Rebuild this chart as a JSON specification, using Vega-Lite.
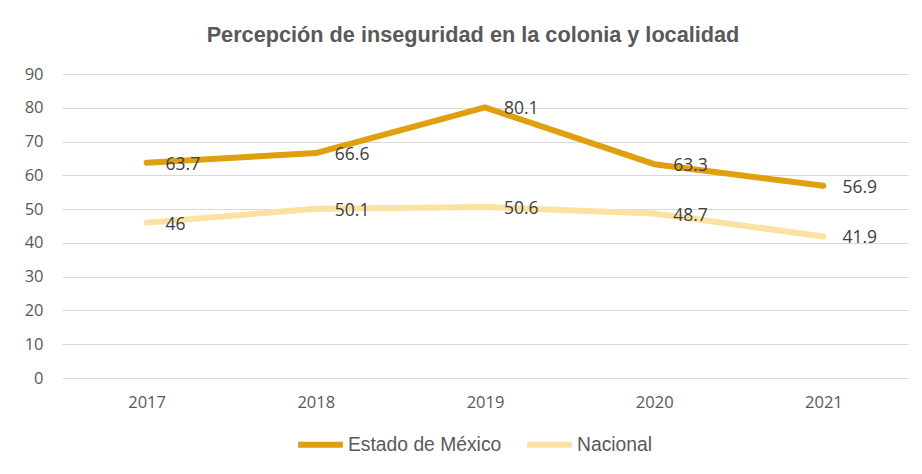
{
  "$schema": "https://vega.github.io/schema/vega-lite/v6.json",
  "width": 846,
  "height": 304,
  "autosize": {"type": "none"},
  "padding": {"left": 62, "top": 74, "right": 14, "bottom": 96},
  "background": "white",
  "title": {
    "text": "Percepción de inseguridad en la colonia y localidad",
    "font": "Liberation Sans",
    "fontSize": 21.7,
    "fontWeight": "bold",
    "color": "#595959",
    "anchor": "middle",
    "dx": -12,
    "offset": 19
  },
  "data": {
    "values": [
      {"year": "2017", "serie": "Estado de México", "valor": 63.7},
      {"year": "2018", "serie": "Estado de México", "valor": 66.6},
      {"year": "2019", "serie": "Estado de México", "valor": 80.1},
      {"year": "2020", "serie": "Estado de México", "valor": 63.3},
      {"year": "2021", "serie": "Estado de México", "valor": 56.9},
      {"year": "2017", "serie": "Nacional", "valor": 46},
      {"year": "2018", "serie": "Nacional", "valor": 50.1},
      {"year": "2019", "serie": "Nacional", "valor": 50.6},
      {"year": "2020", "serie": "Nacional", "valor": 48.7},
      {"year": "2021", "serie": "Nacional", "valor": 41.9}
    ]
  },
  "encoding": {
    "x": {
      "field": "year",
      "type": "ordinal",
      "scale": {"paddingInner": 0, "paddingOuter": 0.5},
      "axis": {
        "title": null,
        "labelAngle": 0,
        "domain": false,
        "ticks": false,
        "labelFont": "Open Sans",
        "labelFontSize": 16.5,
        "labelColor": "#595959",
        "labelPadding": 16
      }
    },
    "y": {
      "field": "valor",
      "type": "quantitative",
      "scale": {"domain": [0, 90], "nice": false},
      "axis": {
        "title": null,
        "values": [0, 10, 20, 30, 40, 50, 60, 70, 80, 90],
        "domain": false,
        "ticks": false,
        "labelFont": "Open Sans",
        "labelFontSize": 16.5,
        "labelColor": "#595959",
        "labelPadding": 19,
        "gridColor": "#d9d9d9",
        "gridWidth": 1
      }
    },
    "color": {
      "field": "serie",
      "type": "nominal",
      "scale": {"domain": ["Estado de México", "Nacional"], "range": ["#E09F0E", "#FBE2A2"]},
      "legend": {
        "title": null,
        "orient": "none",
        "legendX": 233,
        "legendY": 345,
        "direction": "horizontal",
        "symbolType": "stroke",
        "symbolStrokeWidth": 6,
        "symbolSize": 2000,
        "labelFont": "Liberation Sans",
        "labelFontSize": 19.3,
        "labelColor": "#595959",
        "labelOffset": 2,
        "columnPadding": 13
      }
    }
  },
  "layer": [
    {
      "mark": {"type": "line", "strokeWidth": 6, "strokeCap": "round", "strokeJoin": "round"}
    },
    {
      "mark": {"type": "text", "align": "left", "baseline": "middle", "dx": 19, "dy": 2, "font": "Open Sans", "fontSize": 17.5, "color": "#404040"},
      "encoding": {
        "text": {"field": "valor", "type": "quantitative"},
        "color": {"value": "#404040"}
      }
    }
  ],
  "config": {"view": {"stroke": null}}
}
